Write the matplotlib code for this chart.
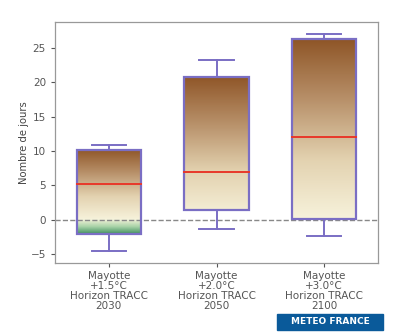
import numpy as np
import matplotlib
matplotlib.use("Agg")
import matplotlib.pyplot as plt
from matplotlib.colors import LinearSegmentedColormap
from matplotlib.patches import Rectangle

categories = ["Mayotte\n+1.5°C\nHorizon TRACC\n2030",
              "Mayotte\n+2.0°C\nHorizon TRACC\n2050",
              "Mayotte\n+3.0°C\nHorizon TRACC\n2100"]
q1 = [-2.1, 1.4, 0.15]
median = [5.2, 7.0, 12.0]
q3 = [10.2, 20.8, 26.3]
wlow = [-4.6, -1.3, -2.4]
whigh = [10.9, 23.3, 27.0]

edge = "#7a6ec4"
brown = LinearSegmentedColormap.from_list("br", ["#f7f3dc", "#e3d2b0", "#b8916a", "#8f5628"])
green = LinearSegmentedColormap.from_list("gr", ["#f7f3dc", "#a9d3a8", "#3f8f5e"])

fig = plt.figure(figsize=(4.0, 3.32), dpi=100)
ax = fig.add_axes([0.1375, 0.208, 0.8075, 0.726])
ax.set_xlim(-0.5, 2.5)
ax.set_ylim(-6.3, 28.8)

w = 0.6
for i in range(3):
    x0, x1 = i - w / 2, i + w / 2
    top = q3[i]
    lo = max(q1[i], 0)
    if top > lo:
        grad = np.linspace(lo / top, 1, 256).reshape(-1, 1)
        ax.imshow(grad, cmap=brown, vmin=0, vmax=1, aspect="auto", origin="lower",
                  extent=[x0, x1, lo, top], zorder=1, interpolation="bilinear")
    if q1[i] < 0:
        grad = np.linspace(1, 0, 256).reshape(-1, 1)
        ax.imshow(grad, cmap=green, vmin=0, vmax=1, aspect="auto", origin="lower",
                  extent=[x0, x1, q1[i], 0], zorder=1, interpolation="bilinear")
    ax.add_patch(Rectangle((x0, q1[i]), w, q3[i] - q1[i], fill=False, ec=edge, lw=1.6, zorder=3))
    ax.plot([x0, x1], [median[i]] * 2, color="#e8382a", lw=1.4, zorder=4)
    ax.plot([i, i], [q3[i], whigh[i]], color=edge, lw=1.4, zorder=3)
    ax.plot([i, i], [wlow[i], q1[i]], color=edge, lw=1.4, zorder=3)
    ax.plot([i - 0.16, i + 0.16], [whigh[i]] * 2, color=edge, lw=1.4, zorder=3)
    ax.plot([i - 0.16, i + 0.16], [wlow[i]] * 2, color=edge, lw=1.4, zorder=3)

ax.axhline(0, color="#888888", ls="--", lw=1.0, zorder=2)
ax.set_xlim(-0.5, 2.5)
ax.set_ylim(-6.3, 28.8)
ax.set_xticks(range(3))
ax.set_xticklabels(categories, fontsize=7.5, color="#444444", linespacing=1.0)
ax.set_yticks([-5, 0, 5, 10, 15, 20, 25])
ax.set_yticklabels(["\u22125", "0", "5", "10", "15", "20", "25"])
ax.tick_params(axis="y", labelsize=7.5, colors="#555555", length=3)
ax.tick_params(axis="x", colors="#555555", length=3, pad=2.5)
ax.set_ylabel("Nombre de jours", fontsize=7.2, color="#444444", labelpad=1)
for s in ax.spines.values():
    s.set_color("#999999")
    s.set_linewidth(0.9)

fig.patches.append(Rectangle((277 / 400, 1 - 330 / 332), 106 / 400, 16 / 332,
                             transform=fig.transFigure, color="#0a5a9a", zorder=5))
fig.text(330 / 400, 1 - 322 / 332, "METEO FRANCE", color="white", fontsize=6.5,
         fontweight="bold", ha="center", va="center", zorder=6)

fig.savefig("out.png", dpi=100)
